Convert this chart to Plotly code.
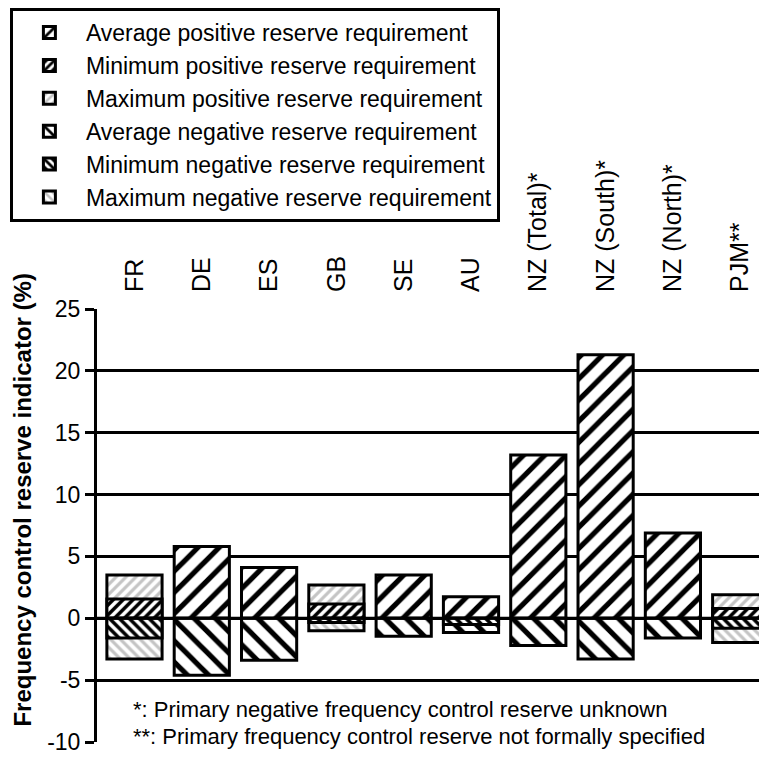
import plotly.graph_objects as go

categories = ["FR", "DE", "ES", "GB", "SE", "AU", "NZ (Total)*", "NZ (South)*", "NZ (North)*", "PJM**"]
avg_pos = [None, 5.8, 4.1, None, 3.5, 1.75, 13.2, 21.3, 6.9, None]
min_pos = [1.55, None, None, 1.15, None, None, None, None, None, 0.8]
max_pos = [3.5, None, None, 2.7, None, None, None, None, None, 1.9]
avg_neg = [None, -4.6, -3.4, None, -1.45, -1.15, -2.2, -3.3, -1.6, None]
min_neg = [-1.6, None, None, -0.35, None, -0.5, None, None, None, -0.8]
max_neg = [-3.3, None, None, -1.0, None, None, None, None, None, -1.95]

y_ticks = [-10, -5, 0, 5, 10, 15, 20, 25]
y_ticktext = ["-10", "-5", "0", "5", "10", "15", "20", "25"]

FONT = "Arial, Liberation Sans, sans-serif"

x = list(range(len(categories)))

def bar(name, vals, shape, size, solidity, fg, rank):
    return go.Bar(
        x=x, y=vals, name=name, width=0.82, legendrank=rank,
        marker=dict(color="white",
                    line=dict(color="black", width=3),
                    pattern=dict(shape=shape, size=size, solidity=solidity,
                                 fgcolor=fg, bgcolor="white", fgopacity=1,
                                 fillmode="replace")),
    )

fig = go.Figure()
fig.add_trace(bar("Average positive reserve requirement", avg_pos, "/", 15, 0.35, "black", 1))
fig.add_trace(bar("Maximum positive reserve requirement", max_pos, "/", 7, 0.45, "#c4c4c4", 3))
fig.add_trace(bar("Minimum positive reserve requirement", min_pos, "/", 7, 0.5, "black", 2))
fig.add_trace(bar("Average negative reserve requirement", avg_neg, "\\", 15, 0.35, "black", 4))
fig.add_trace(bar("Maximum negative reserve requirement", max_neg, "\\", 7, 0.45, "#c4c4c4", 6))
fig.add_trace(bar("Minimum negative reserve requirement", min_neg, "\\", 7, 0.5, "black", 5))

fig.update_layout(
    width=759, height=750,
    margin=dict(l=89, r=0, t=301, b=16),
    barmode="overlay",
    plot_bgcolor="white", paper_bgcolor="white",
    font=dict(family=FONT, color="black"),
    showlegend=True,
    legend=dict(x=-0.13, y=1.695, xanchor="left", yanchor="top",
                bgcolor="white", bordercolor="black", borderwidth=3,
                font=dict(size=23, family=FONT), itemwidth=63,
                traceorder="normal"),
    xaxis=dict(side="top", tickmode="array", tickvals=x, ticktext=categories,
               tickangle=-90, tickfont=dict(size=25, family=FONT),
               range=[-0.557, 9.398], showgrid=False, zeroline=False,
               showline=False, ticks="", ticklabelstandoff=16),
    yaxis=dict(range=[-10, 25], tickmode="array", tickvals=y_ticks, ticktext=y_ticktext,
               showgrid=True, gridcolor="black", gridwidth=3, zeroline=False,
               showline=True, linecolor="black", linewidth=3,
               ticks="outside", ticklen=9, tickwidth=3, tickcolor="black",
               tickfont=dict(size=23, family=FONT)),
)

fig.add_shape(type="line", xref="paper", yref="y", x0=0, x1=1, y0=0, y1=0,
              line=dict(color="black", width=3), layer="above")

fig.add_annotation(text="<b>Frequency control reserve indicator (%)</b>",
                   xref="paper", yref="paper", x=-0.111, y=0.559,
                   textangle=-90, showarrow=False, xanchor="center", yanchor="middle",
                   font=dict(size=24, family=FONT))
fig.add_annotation(text="*: Primary negative frequency control reserve unknown",
                   xref="paper", yref="paper", x=0.05, y=0.076,
                   showarrow=False, xanchor="left", yanchor="middle",
                   font=dict(size=22, family=FONT))
fig.add_annotation(text="**: Primary frequency control reserve not formally specified",
                   xref="paper", yref="paper", x=0.05, y=0.012,
                   showarrow=False, xanchor="left", yanchor="middle",
                   font=dict(size=22, family=FONT))

fig.write_html("out.html")
